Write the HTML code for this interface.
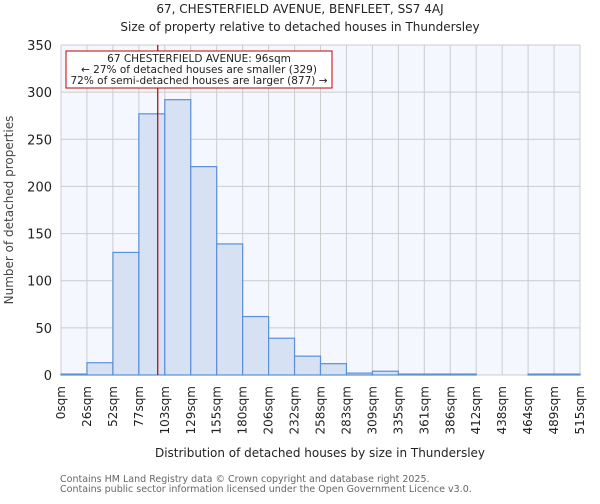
<!DOCTYPE html>
<html><head><meta charset="utf-8"><style>
body{margin:0;background:#fff;font-family:"DejaVu Sans","Liberation Sans",sans-serif;}
svg text{font-family:"DejaVu Sans","Liberation Sans",sans-serif;}
</style></head><body>
<svg id="chart" width="600" height="500">
<text x="300" y="13" text-anchor="middle" font-size="12" fill="#222">67, CHESTERFIELD AVENUE, BENFLEET, SS7 4AJ</text>
<text x="300" y="31" text-anchor="middle" font-size="12" fill="#222">Size of property relative to detached houses in Thundersley</text>
<rect x="61" y="45" width="519" height="330" fill="#f4f7fd"/>
<g id="grid"></g>
<g id="bars"></g>
<g id="yticks"></g>
<g id="xticks"></g>
<line id="marker" stroke="#b00000" stroke-width="1.2"/>
<rect x="66" y="51" width="266" height="37" fill="#fff" stroke="#c00000" stroke-width="1"/>
<text x="199" y="62" text-anchor="middle" font-size="10.5" fill="#222">67 CHESTERFIELD AVENUE: 96sqm</text>
<text x="199" y="73" text-anchor="middle" font-size="10.5" fill="#222">← 27% of detached houses are smaller (329)</text>
<text x="199" y="84" text-anchor="middle" font-size="10.5" fill="#222">72% of semi-detached houses are larger (877) →</text>
<text transform="translate(13,210) rotate(-90)" text-anchor="middle" font-size="12" fill="#444">Number of detached properties</text>
<text x="320" y="457" text-anchor="middle" font-size="12" fill="#222">Distribution of detached houses by size in Thundersley</text>
<text x="60" y="482" font-size="9.5" fill="#666">Contains HM Land Registry data © Crown copyright and database right 2025.</text>
<text x="60" y="492" font-size="9.5" fill="#666">Contains public sector information licensed under the Open Government Licence v3.0.</text>
</svg>
<script>
const categories=["0sqm","26sqm","52sqm","77sqm","103sqm","129sqm","155sqm","180sqm","206sqm","232sqm","258sqm","283sqm","309sqm","335sqm","361sqm","386sqm","412sqm","438sqm","464sqm","489sqm","515sqm"];
const counts=[1,13,130,277,292,221,139,62,39,20,12,2,4,1,1,1,0,0,1,1];
const yTicks=[0,50,100,150,200,250,300,350];
const binWidthSqm=25.75;
const markerSqm=96;
const NS="http://www.w3.org/2000/svg";
const L=61,R=580,T=45,B=375,yMax=350;
const bw=(R-L)/counts.length;
const xs=i=>L+i*bw;
const xv=v=>L+v/binWidthSqm*bw;
const ys=v=>B-(v/yMax)*(B-T);
function mk(tag,attrs,parent){const e=document.createElementNS(NS,tag);for(const k in attrs)e.setAttribute(k,attrs[k]);document.getElementById(parent).appendChild(e);return e;}
yTicks.forEach(t=>{
  const g=mk('line',{x1:L,x2:R,y1:ys(t),y2:ys(t),stroke:'#cccccc','stroke-width':1},'grid');
  
  
  const tx=mk('text',{x:L-9,y:ys(t)+5,'text-anchor':'end','font-size':13,fill:'#222'},'yticks');
  tx.textContent=t;
  
  
});
categories.forEach((c,i)=>{
  const g=mk('line',{x1:xs(i),x2:xs(i),y1:T,y2:B,stroke:'#cccccc','stroke-width':1},'grid');
  
  
  const x=xs(i)+4;
  const tx=mk('text',{transform:`translate(${x},386) rotate(-90)`,'text-anchor':'end','font-size':12,fill:'#222'},'xticks');
  tx.textContent=c;
  
  
});
counts.forEach((v,i)=>{
  const r=mk('rect',{x:xs(i),y:ys(v),width:bw,height:B-ys(v),fill:'#d6e2f3',stroke:'#5b8fd6','stroke-width':1.2},'bars');
  
  
});
const m=document.getElementById('marker');
m.setAttribute('x1',xv(markerSqm));m.setAttribute('x2',xv(markerSqm));
m.setAttribute('y1',T);m.setAttribute('y2',B);
</script>
</body></html>
